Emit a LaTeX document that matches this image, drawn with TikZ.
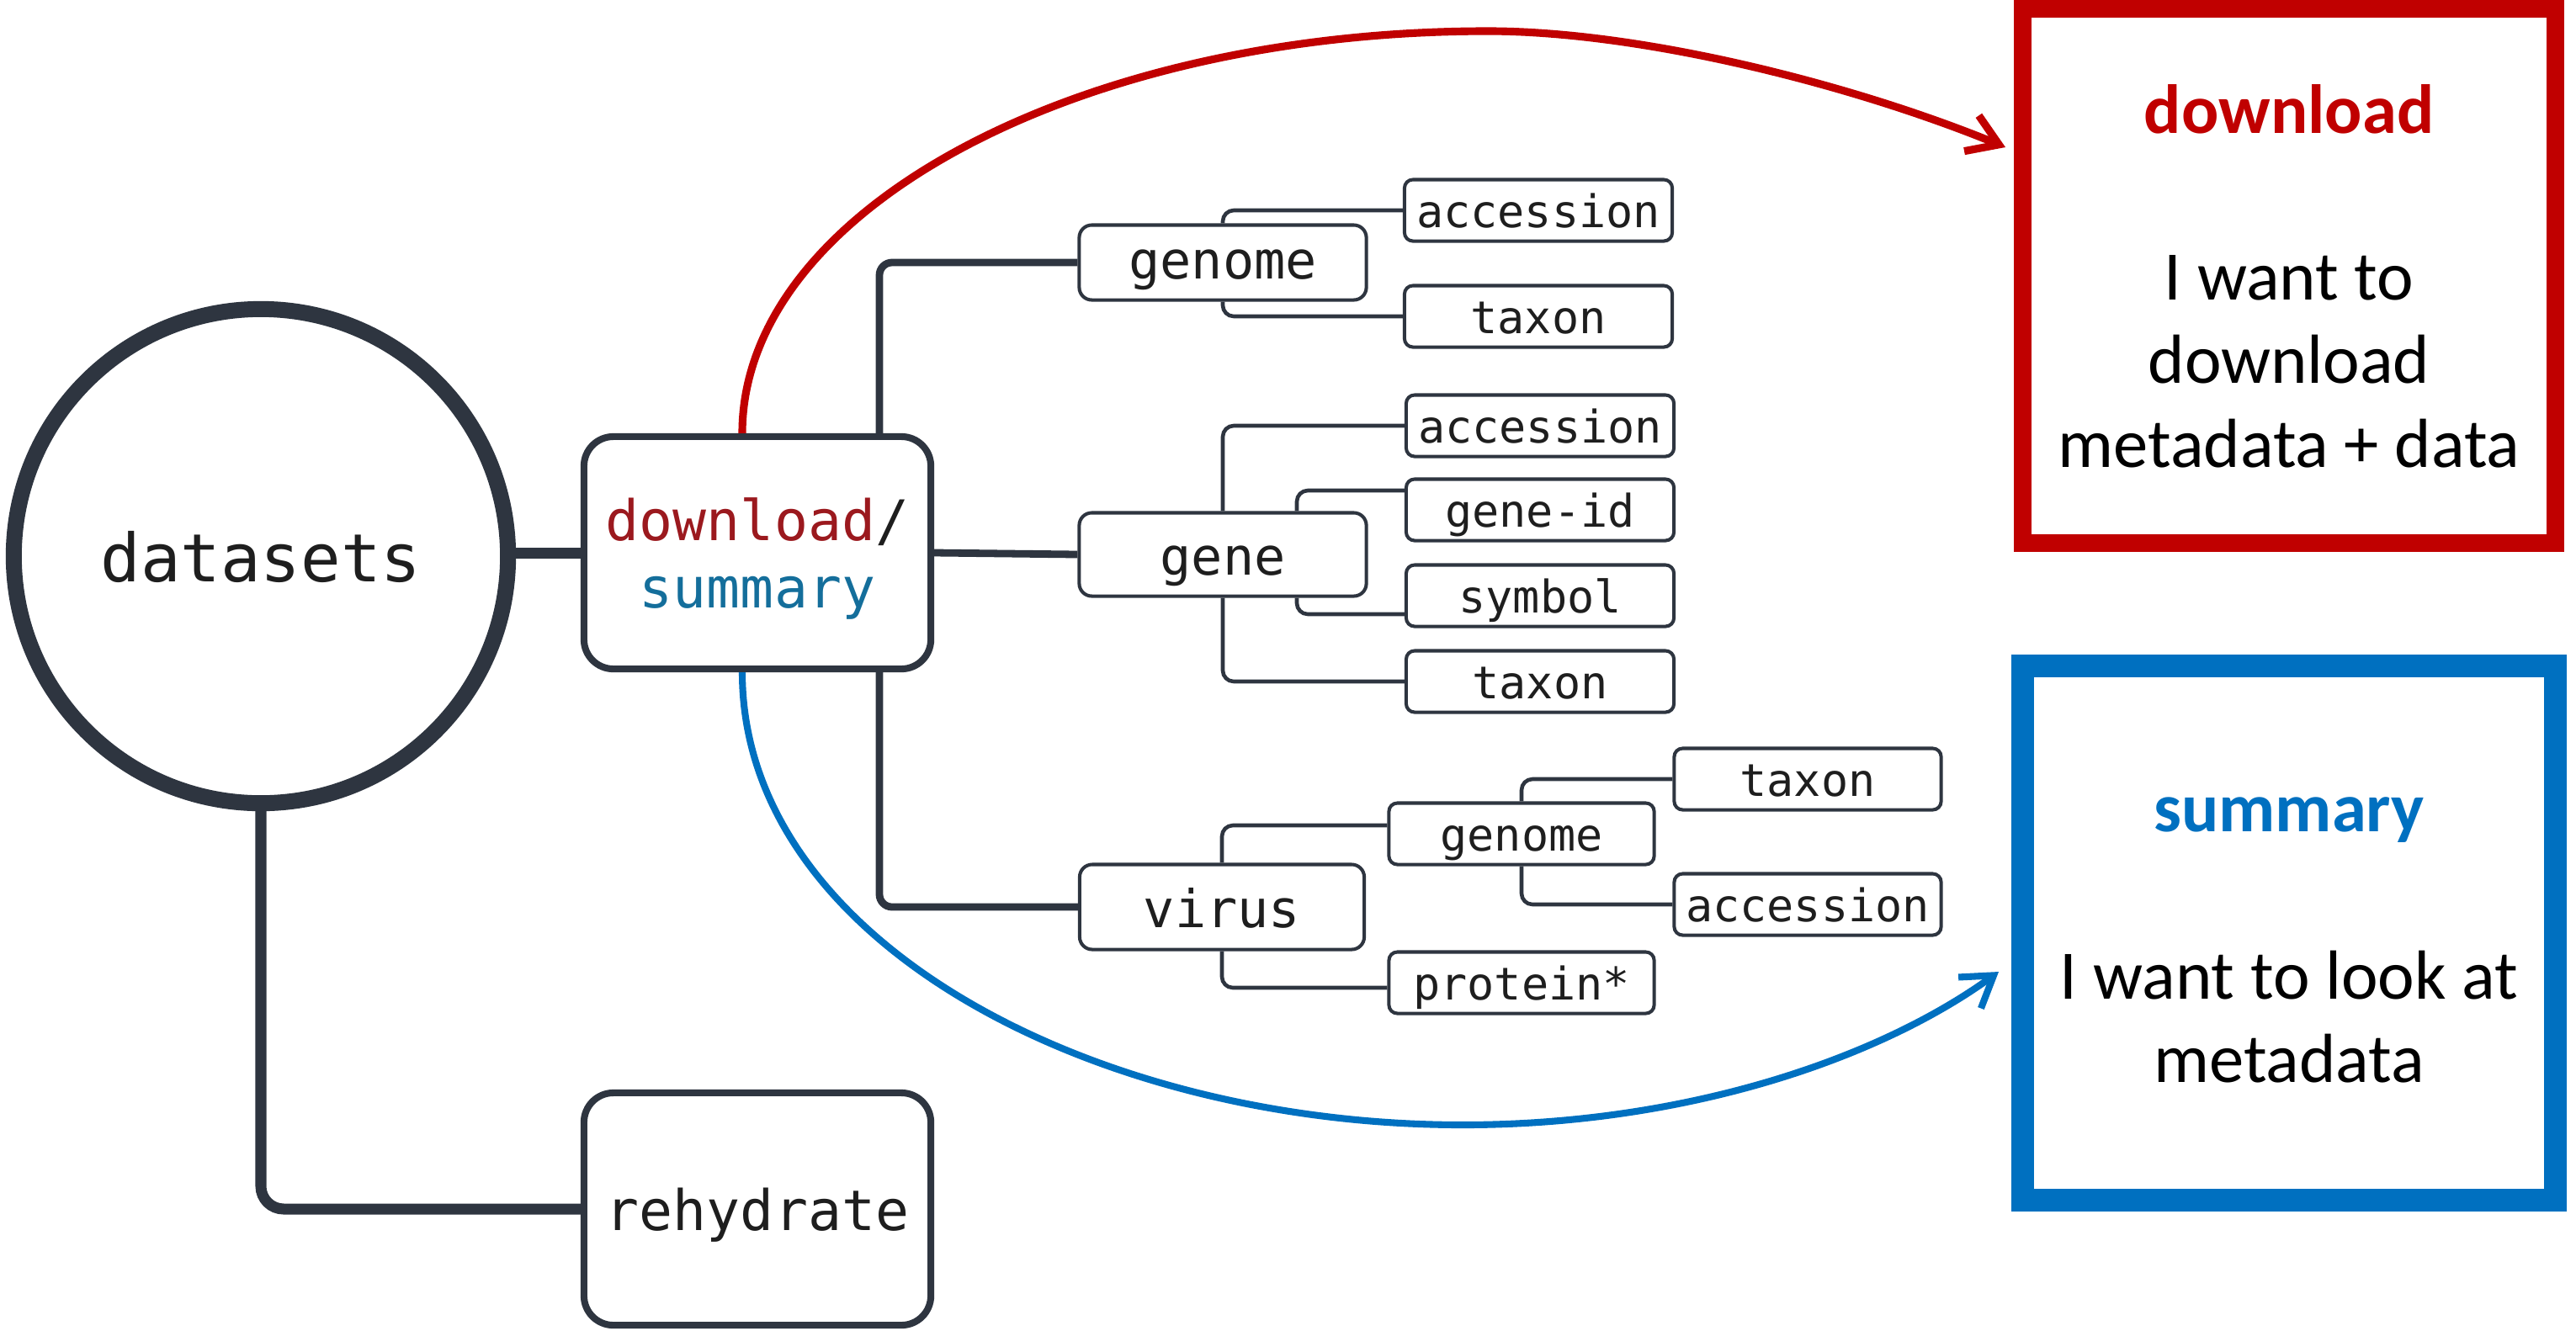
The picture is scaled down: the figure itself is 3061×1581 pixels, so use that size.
\documentclass[tikz,border=0pt]{standalone}
\usepackage{fontspec}
\setmonofont{DejaVu Sans Mono}
\newfontfamily\calib{Carlito}
\usetikzlibrary{arrows.meta,calc}
\definecolor{ink}{RGB}{46,53,64}
\definecolor{txt}{RGB}{30,30,30}
\definecolor{dlred}{RGB}{155,25,30}
\definecolor{smblue}{RGB}{20,110,155}
\definecolor{arcred}{RGB}{192,0,0}
\definecolor{arcblue}{RGB}{0,112,192}
\begin{document}
\begin{tikzpicture}[x=0.01cm,y=-0.01cm,
  leaf/.style={draw=ink,line width=1.15pt,rounded corners=0.10cm,fill=white,
     minimum width=3.18cm,minimum height=0.73cm,inner sep=0pt,
     font=\ttfamily\fontsize{15.2pt}{18pt}\selectfont,text=txt,
     text height=11.6pt,text depth=0pt},
  mid/.style={draw=ink,line width=1.15pt,rounded corners=0.15cm,fill=white,
     minimum width=3.41cm,minimum height=0.99cm,inner sep=0pt,
     font=\ttfamily\fontsize{17.6pt}{21pt}\selectfont,text=txt,
     text height=14.1pt,text depth=0pt},
  big/.style={draw=ink,line width=2.3pt,rounded corners=0.35cm,fill=white,
     minimum width=4.12cm,minimum height=2.76cm,inner sep=0pt,align=center,
     font=\ttfamily\fontsize{18.9pt}{23pt}\selectfont,text=txt},
  twig/.style={draw=ink,line width=1.3pt,rounded corners=0.13cm},
  trunk/.style={draw=ink,line width=2.5pt,rounded corners=0.15cm},
  heavy/.style={draw=ink,line width=3.7pt,rounded corners=0.27cm},
  goal/.style={line width=6pt,fill=white,minimum width=6.33cm,minimum height=6.35cm,
     inner sep=0pt,align=center,font=\calib\fontsize{23.5pt}{28.2pt}\selectfont,text=black},
  redarc/.style={draw=arcred,line width=2.6pt,-{Straight Barb[length=10pt,width=13pt]}},
  bluearc/.style={draw=arcblue,line width=2.3pt,-{Straight Barb[length=10pt,width=13pt]}}
]
\useasboundingbox (0,0) rectangle (3061,1581);

% main nodes
\node[circle,draw=ink,line width=5.4pt,minimum size=5.87cm,inner sep=0pt,fill=white,
      font=\ttfamily\fontsize{22.5pt}{27pt}\selectfont,text=txt,
      text height=17.6pt,text depth=0pt] (root) at (310,661) {datasets};
\node[big,text depth=0pt] (ds) at (900,657)
  {\textcolor{dlred}{download}/\\\textcolor{smblue}{summary}};
\node[big,text height=14.7pt,text depth=0pt] (rh) at (900,1437) {rehydrate};

% tree nodes
\node[mid,minimum height=0.89cm,text height=12.5pt,text depth=1.5pt] (genome) at (1453,312) {genome};
\node[leaf] (gacc) at (1828,250) {accession};
\node[leaf] (gtax) at (1828,376) {taxon};
\node[mid] (gene) at (1453,659) {gene};
\node[leaf] (acc2) at (1830,506) {accession};
\node[leaf] (gid) at (1830,606) {gene-id};
\node[leaf] (sym) at (1830,708) {symbol};
\node[leaf] (tax2) at (1830,810) {taxon};
\node[mid,minimum width=3.38cm,minimum height=1.01cm] (virus) at (1452,1078) {virus};
\node[leaf,minimum width=3.15cm] (vgen) at (1808,991) {genome};
\node[leaf,minimum width=3.17cm] (vtax) at (2148,926) {taxon};
\node[leaf,minimum width=3.17cm] (vacc) at (2148,1075) {accession};
\node[leaf,minimum width=3.15cm] (prot) at (1808,1168) {protein*};

% goal boxes
\node[goal,draw=arcred] (dlbox) at (2720,328)
  {{\bfseries\color{arcred}download}\\[28.2pt]I want to\\download\\metadata + data};
\node[goal,draw=arcblue,line width=7.7pt,minimum width=6.325cm,minimum height=6.34cm] (smbox) at (2720,1109)
  {\rule{0pt}{0.7em}{\bfseries\color{arcblue}summary}\\[28.2pt]I want to look at\\metadata};

% connectors
\draw[heavy] (root.east |- ds.west) -- (ds.west);
\draw[heavy] (root.south) |- (rh.west);
\draw[trunk] ($(ds.north)+(145,0)$) |- (genome.west);
\draw[trunk] (ds.east) -- (gene.west);
\draw[trunk] ($(ds.south)+(145,0)$) |- (virus.west);

\draw[twig] (genome.north) |- (gacc.west);
\draw[twig] (genome.south) |- (gtax.west);
\draw[twig] (gene.north) |- (acc2.west);
\draw[twig] ($(gene.north)+(88,0)$) |- ($(gid.west)+(0,-23)$);
\draw[twig] ($(gene.south)+(88,0)$) |- ($(sym.west)+(0,22)$);
\draw[twig] (gene.south) |- (tax2.west);
\draw[twig] (virus.north) |- ($(vgen.west)+(0,-10)$);
\draw[twig] (vgen.north) |- (vtax.west);
\draw[twig] (vgen.south) |- (vacc.west);
\draw[twig] (virus.south) |- ($(prot.west)+(0,6)$);

% arcs
\coordinate (rtip) at (2383,175);
\coordinate (btip) at (2375,1155);
\draw[redarc] ($(ds.north)+(-18,0)$) .. controls ($(ds.north)+(-18,-265)$) and (1280,37) .. (1768,37)
   .. controls (1950,37) and (2200,100) .. (rtip);
\draw[bluearc] ($(ds.south)+(-18,0)$) .. controls ($(ds.south)+(-18,320)$) and (1300,1337) .. (1738,1337)
   .. controls (2000,1337) and (2230,1260) .. (btip);
\end{tikzpicture}
\end{document}
